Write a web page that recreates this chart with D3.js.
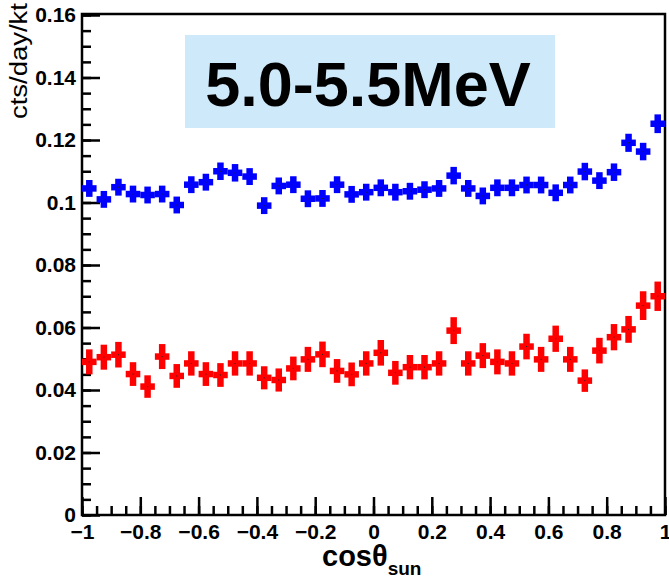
<!DOCTYPE html>
<html>
<head>
<meta charset="utf-8">
<script src="https://cdn.jsdelivr.net/npm/d3@7"></script>
<style>
  body { margin: 0; background: #fff; }
  svg { display: block; font-family: "Liberation Sans", Arial, sans-serif; }
</style>
</head>
<body>
<div id="chart"></div>
<script>
// ===== DATA =====
const binCenters = [
  -0.975, -0.925, -0.875, -0.825, -0.775, -0.725, -0.675, -0.625, -0.575, -0.525,
  -0.475, -0.425, -0.375, -0.325, -0.275, -0.225, -0.175, -0.125, -0.075, -0.025,
   0.025,  0.075,  0.125,  0.175,  0.225,  0.275,  0.325,  0.375,  0.425,  0.475,
   0.525,  0.575,  0.625,  0.675,  0.725,  0.775,  0.825,  0.875,  0.925,  0.975
];
const binHalfWidth = 0.025;

// blue series (upper)
const blueVals = [
  0.1045, 0.1010, 0.1049, 0.1027, 0.1024, 0.1027, 0.0992, 0.1057, 0.1065, 0.1100,
  0.1095, 0.1083, 0.0990, 0.1053, 0.1057, 0.1012, 0.1013, 0.1057, 0.1026, 0.1033,
  0.1047, 0.1033, 0.1036, 0.1041, 0.1045, 0.1086, 0.1045, 0.1021, 0.1047, 0.1047,
  0.1056, 0.1056, 0.1031, 0.1056, 0.1099, 0.1070, 0.1097, 0.1191, 0.1163, 0.1252
];
const blueErrs = [
  0.0027, 0.0027, 0.0027, 0.0027, 0.0027, 0.0027, 0.0027, 0.0027, 0.0027, 0.0028,
  0.0028, 0.0027, 0.0027, 0.0027, 0.0027, 0.0027, 0.0027, 0.0027, 0.0027, 0.0027,
  0.0027, 0.0027, 0.0027, 0.0027, 0.0027, 0.0028, 0.0027, 0.0027, 0.0027, 0.0027,
  0.0027, 0.0027, 0.0027, 0.0027, 0.0028, 0.0027, 0.0028, 0.0029, 0.0028, 0.0030
];

// red series (lower)
const redVals = [
  0.0490, 0.0505, 0.0513, 0.0451, 0.0411, 0.0507, 0.0445, 0.0485, 0.0451, 0.0448,
  0.0485, 0.0485, 0.0439, 0.0432, 0.0469, 0.0498, 0.0514, 0.0461, 0.0450, 0.0485,
  0.0519, 0.0455, 0.0473, 0.0473, 0.0485, 0.0590, 0.0485, 0.0510, 0.0490, 0.0485,
  0.0539, 0.0498, 0.0564, 0.0498, 0.0430, 0.0526, 0.0569, 0.0594, 0.0670, 0.0700
];
const redErrs = [
  0.0040, 0.0040, 0.0041, 0.0038, 0.0036, 0.0040, 0.0038, 0.0039, 0.0038, 0.0038,
  0.0039, 0.0039, 0.0037, 0.0037, 0.0038, 0.0040, 0.0041, 0.0038, 0.0038, 0.0039,
  0.0041, 0.0038, 0.0039, 0.0039, 0.0039, 0.0043, 0.0039, 0.0040, 0.0040, 0.0039,
  0.0041, 0.0040, 0.0042, 0.0040, 0.0036, 0.0041, 0.0042, 0.0043, 0.0046, 0.0047
];

const xMajorTicks = [-1, -0.8, -0.6, -0.4, -0.2, 0, 0.2, 0.4, 0.6, 0.8, 1];
const yMajorTicks = [0, 0.02, 0.04, 0.06, 0.08, 0.1, 0.12, 0.14, 0.16];
const titleText = "5.0-5.5MeV";

// ===== SIZE =====
const width = 669;
const height = 582;
const plot = { left: 82, right: 665, top: 15, bottom: 515 };

d3.select("#chart").selectAll("*").remove();

const svg = d3.select("#chart")
  .append("svg")
  .attr("width", width)
  .attr("height", height);

const x = d3.scaleLinear().domain([-1, 1]).range([plot.left, plot.right]);
const y = d3.scaleLinear().domain([0, 0.16]).range([plot.bottom, plot.top]);

// title box
svg.append("rect")
  .attr("x", 185).attr("y", 35)
  .attr("width", 370).attr("height", 93)
  .attr("fill", "#cde9fa");

svg.append("text")
  .attr("x", 368).attr("y", 106)
  .attr("text-anchor", "middle")
  .style("font-size", "63px")
  .style("font-weight", "bold")
  .text(titleText);

// ===== AXES =====
const minorX = d3.range(-1, 1.0001, 0.05).map(v => +v.toFixed(2));
const minorY = d3.range(0, 0.16001, 0.005).map(v => +v.toFixed(3));

const fmtX = d => String(+d.toFixed(1)).replace("-", "\u2212");
const fmtY = d => String(+d.toFixed(2));

const xAxis = svg.append("g")
  .attr("transform", `translate(0,${plot.bottom})`)
  .call(d3.axisBottom(x).tickValues(xMajorTicks).tickFormat(fmtX)
    .tickSizeInner(-18).tickSizeOuter(0).tickPadding(9));

const xMinor = svg.append("g")
  .attr("transform", `translate(0,${plot.bottom})`)
  .call(d3.axisBottom(x).tickValues(minorX).tickFormat("")
    .tickSizeInner(-9).tickSizeOuter(0));

const yAxis = svg.append("g")
  .attr("transform", `translate(${plot.left},0)`)
  .call(d3.axisLeft(y).tickValues(yMajorTicks).tickFormat(fmtY)
    .tickSizeInner(-18).tickSizeOuter(0).tickPadding(6));

const yMinor = svg.append("g")
  .attr("transform", `translate(${plot.left},0)`)
  .call(d3.axisLeft(y).tickValues(minorY).tickFormat("")
    .tickSizeInner(-9).tickSizeOuter(0));

[xAxis, xMinor, yAxis, yMinor].forEach(a => {
  a.select(".domain").remove();
  a.selectAll(".tick line").attr("stroke", "#000").attr("stroke-width", 2.5);
});

[xAxis, yAxis].forEach(a => {
  a.selectAll(".tick text")
    .attr("fill", "#000")
    .style("font-size", "21px")
    .style("font-weight", "bold")
    .style("font-family", "'Liberation Sans', Arial, sans-serif");
});

// frame
svg.append("rect")
  .attr("x", plot.left).attr("y", plot.top - 1)
  .attr("width", plot.right - plot.left)
  .attr("height", plot.bottom - plot.top + 1)
  .attr("fill", "none")
  .attr("stroke", "#000")
  .attr("stroke-width", 2.5);

// axis titles
svg.append("text")
  .attr("transform", "rotate(-90)")
  .attr("x", -3)
  .attr("y", 27)
  .attr("text-anchor", "end")
  .attr("textLength", 116)
  .attr("lengthAdjust", "spacingAndGlyphs")
  .style("font-size", "23px")
  .text("cts/day/kt");

const xt = svg.append("text")
  .attr("x", 322)
  .attr("y", 566)
  .style("font-weight", "bold");
xt.append("tspan").style("font-size", "29px").text("cos\u03b8");
xt.append("tspan").attr("dy", 9).style("font-size", "19px").text("sun");

// ===== DATA POINTS =====
function drawSeries(vals, errs, color) {
  const pts = binCenters.map((c, i) => ({ c, v: vals[i], e: errs[i] }));
  const g = svg.append("g");

  g.selectAll("line.h")
    .data(pts)
    .join("line")
    .attr("class", "h")
    .attr("x1", d => x(d.c - binHalfWidth))
    .attr("x2", d => x(d.c + binHalfWidth))
    .attr("y1", d => y(d.v))
    .attr("y2", d => y(d.v))
    .attr("stroke", color)
    .attr("stroke-width", 6.5);

  g.selectAll("line.v")
    .data(pts)
    .join("line")
    .attr("class", "v")
    .attr("x1", d => x(d.c))
    .attr("x2", d => x(d.c))
    .attr("y1", d => y(d.v - d.e))
    .attr("y2", d => y(d.v + d.e))
    .attr("stroke", color)
    .attr("stroke-width", 6.5);

  g.selectAll("rect.dot")
    .data(pts)
    .join("rect")
    .attr("class", "dot")
    .attr("x", d => x(d.c) - 0.5)
    .attr("y", d => y(d.v) - 0.5)
    .attr("width", 1)
    .attr("height", 1)
    .attr("fill", "#222");
}

drawSeries(blueVals, blueErrs, "#0000ff");
drawSeries(redVals, redErrs, "#ff0000");
</script>
</body>
</html>
